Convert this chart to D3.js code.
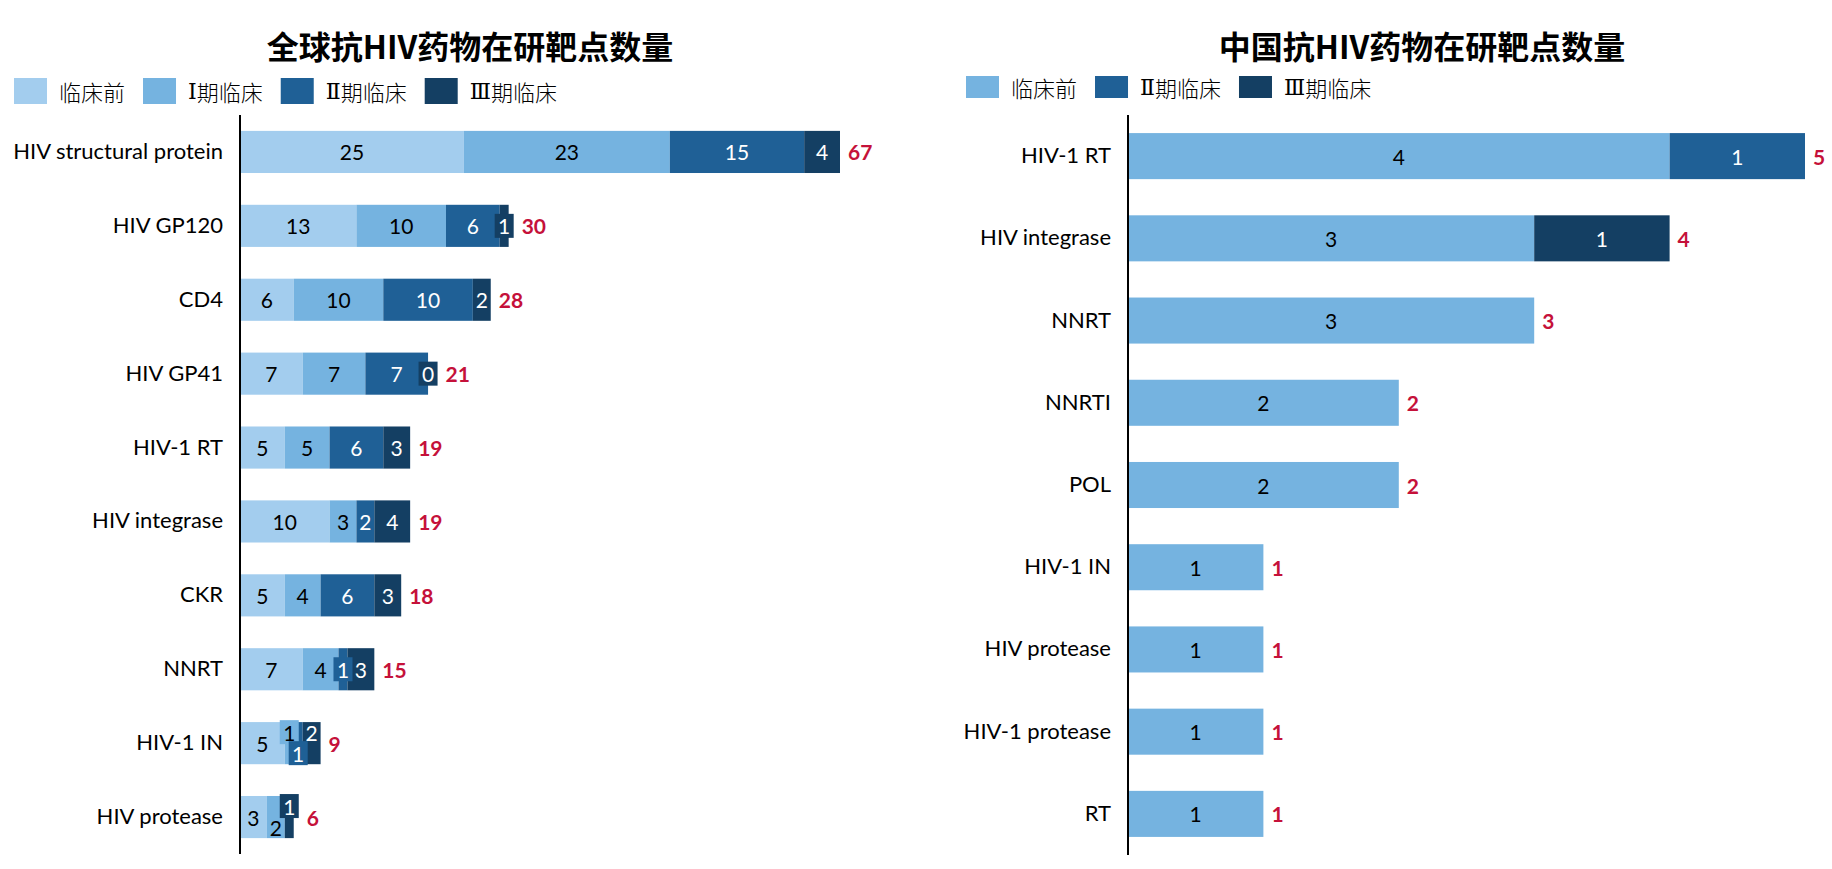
<!DOCTYPE html>
<html>
<head>
<meta charset="utf-8">
<script src="https://cdn.jsdelivr.net/npm/d3@7"></script>
<style>
  body { margin: 0; background: #fff; }
  svg { display: block; }
</style>
</head>
<body>
<svg id="chart" width="1832" height="869"></svg>
<script>
// global pipeline, in-research targets by phase
const globalTargets = ["HIV structural protein", "HIV GP120", "CD4", "HIV GP41", "HIV-1 RT",
  "HIV integrase", "CKR", "NNRT", "HIV-1 IN", "HIV protease"];
const globalPreclinical = [25, 13, 6, 7, 5, 10, 5, 7, 5, 3];
const globalPhase1 = [23, 10, 10, 7, 5, 3, 4, 4, 1, 2];
const globalPhase2 = [15, 6, 10, 7, 6, 2, 6, 1, 1, null];
const globalPhase3 = [4, 1, 2, 0, 3, 4, 3, 3, 2, 1];

// china pipeline
const chinaTargets = ["HIV-1 RT", "HIV integrase", "NNRT", "NNRTI", "POL", "HIV-1 IN",
  "HIV protease", "HIV-1 protease", "RT"];
const chinaPreclinical = [4, 3, 3, 2, 2, 1, 1, 1, 1];
const chinaPhase2 = [1, null, null, null, null, null, null, null, null];
const chinaPhase3 = [null, 1, null, null, null, null, null, null, null];

const phaseNames = ["临床前", "Ⅰ期临床", "Ⅱ期临床", "Ⅲ期临床"];
const titles = ["全球抗HIV药物在研靶点数量", "中国抗HIV药物在研靶点数量"];

const globalColors = ["#a3cdee", "#75b3e0", "#1f6096", "#143f63"];
const chinaColors = ["#75b3e0", "#1f6096", "#143f63"];
const darkPhases = ["Ⅱ期临床", "Ⅲ期临床"];
const latin = "Lato, 'Open Sans', sans-serif";
const cjk = "'Noto Sans CJK SC', sans-serif";

const svg = d3.select("#chart");

function buildRows(targets, series) {
  return targets.map((t, i) => {
    const row = { target: t };
    series.forEach(s => { row[s.key] = s.values[i]; });
    return row;
  });
}

function drawLegend(items, x0, cy, boxH, color) {
  const g = svg.append("g");
  let x = x0;
  items.forEach(name => {
    g.append("rect").attr("x", x).attr("y", cy - boxH / 2)
      .attr("width", 33).attr("height", boxH).attr("fill", color(name));
    const t = g.append("text").attr("x", x + 45).attr("y", cy)
      .attr("dominant-baseline", "central")
      .attr("font-family", cjk).attr("font-weight", 300).attr("font-size", 22)
      .attr("fill", "#000");
    // roman numerals look better in a serif face than in the CJK one
    const roman = /^[ⅠⅡⅢ]/.test(name);
    if (roman) {
      t.append("tspan").attr("font-family", "'DejaVu Serif', serif")
        .attr("font-weight", 400).text(name[0]);
      t.append("tspan").text(name.slice(1));
    } else {
      t.text(name);
    }
    x = x + 45 + t.node().getComputedTextLength() + 18;
  });
}

function drawPanel(cfg) {
  const rows = buildRows(cfg.targets, cfg.series);
  const keys = cfg.series.map(s => s.key);
  const color = d3.scaleOrdinal().domain(keys).range(cfg.colors);
  const stacked = d3.stack().keys(keys).value((d, k) => d[k] || 0)(rows);

  const x = d3.scaleLinear()
    .domain([0, d3.max(rows, r => d3.sum(keys, k => r[k] || 0))])
    .range([cfg.x0, cfg.x1]);
  const y = d3.scaleBand().domain(cfg.targets)
    .range([cfg.y0, cfg.y1]).paddingInner(cfg.pad).paddingOuter(cfg.pad / 2);

  const g = svg.append("g");

  // title
  g.append("text").attr("x", cfg.titleX).attr("y", 45)
    .attr("text-anchor", "middle").attr("dominant-baseline", "central")
    .attr("font-family", cjk).attr("font-weight", 700).attr("font-size", 32)
    .attr("fill", "#000").text(cfg.title);

  drawLegend(keys, cfg.legendX, cfg.legendY, cfg.legendH, color);

  // bars
  stacked.forEach(layer => {
    g.append("g").selectAll("rect")
      .data(layer.filter(d => d.data[layer.key] != null))
      .join("rect")
      .attr("x", d => x(d[0]))
      .attr("y", d => y(d.data.target))
      .attr("width", d => x(d[1]) - x(d[0]))
      .attr("height", y.bandwidth())
      .attr("fill", color(layer.key));
  });

  // segment labels; thin segments get a small tag, crowded ones are staggered
  const labelG = g.append("g");
  rows.forEach((r, i) => {
    const segs = [];
    stacked.forEach(layer => {
      const d = layer[i];
      if (r[layer.key] == null) return;
      segs.push({ key: layer.key, v: r[layer.key], a: x(d[0]), b: x(d[1]) });
    });
    const narrow = segs.filter(s => s.b - s.a < 20);
    if (narrow.length > 1) {
      narrow.slice().reverse().forEach((s, k) => { s.dy = k % 2 === 0 ? -11 : 10; });
    }
    const cy = y(r.target) + y.bandwidth() / 2;
    let rightMost = x(d3.sum(keys, k => r[k] || 0));
    segs.forEach(s => {
      const cx = (s.a + s.b) / 2;
      const ty = cy + (s.dy || 0);
      if (s.b - s.a < 14) {
        labelG.append("rect").attr("x", cx - 9.5).attr("y", ty - 12)
          .attr("width", 19).attr("height", 24).attr("fill", color(s.key));
        rightMost = Math.max(rightMost, cx + 9.5);
      }
      labelG.append("text").attr("x", cx).attr("y", ty)
        .attr("text-anchor", "middle").attr("dominant-baseline", "central")
        .attr("font-family", latin).attr("font-size", 21)
        .attr("fill", darkPhases.includes(s.key) ? "#fff" : "#000")
        .text(s.v);
    });
    // total
    labelG.append("text").attr("x", rightMost + 8).attr("y", cy)
      .attr("dominant-baseline", "central")
      .attr("font-family", latin).attr("font-weight", 700).attr("font-size", 21)
      .attr("fill", "#c5113a")
      .text(d3.sum(keys, k => r[k] || 0));
  });

  // category axis
  const axis = g.append("g").attr("transform", `translate(${cfg.x0},0)`)
    .call(d3.axisLeft(y).tickSize(0).tickPadding(17));
  axis.select(".domain").remove();
  axis.append("line").attr("x1", 0).attr("x2", 0)
    .attr("y1", cfg.y0).attr("y2", cfg.y1)
    .attr("stroke", "#000").attr("stroke-width", 2);
  axis.selectAll(".tick text")
    .attr("font-family", latin).attr("font-size", 22).attr("fill", "#000");
}

drawPanel({
  title: titles[0], titleX: 470,
  targets: globalTargets,
  series: [
    { key: phaseNames[0], values: globalPreclinical },
    { key: phaseNames[1], values: globalPhase1 },
    { key: phaseNames[2], values: globalPhase2 },
    { key: phaseNames[3], values: globalPhase3 }
  ],
  colors: globalColors,
  x0: 240, x1: 840, y0: 115, y1: 854, pad: 0.43,
  legendX: 14, legendY: 91, legendH: 26
});

drawPanel({
  title: titles[1], titleX: 1422,
  targets: chinaTargets,
  series: [
    { key: phaseNames[0], values: chinaPreclinical },
    { key: phaseNames[2], values: chinaPhase2 },
    { key: phaseNames[3], values: chinaPhase3 }
  ],
  colors: chinaColors,
  x0: 1128, x1: 1805, y0: 115, y1: 855, pad: 0.44,
  legendX: 966, legendY: 87, legendH: 22
});
</script>
</body>
</html>
